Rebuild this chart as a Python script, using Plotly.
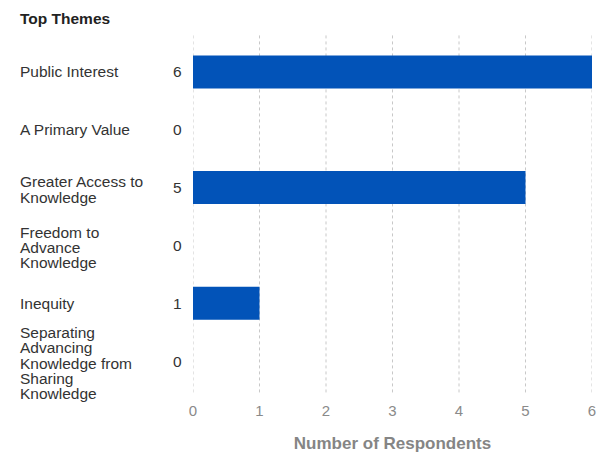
import plotly.graph_objects as go

categories = ["Public Interest", "A Primary Value", "Greater Access to<br>Knowledge",
              "Freedom to<br>Advance<br>Knowledge", "Inequity",
              "Separating<br>Advancing<br>Knowledge from<br>Sharing<br>Knowledge"]
values = [6, 0, 5, 0, 1, 0]
x_ticks = [0, 1, 2, 3, 4, 5, 6]

keys = [str(i) for i in range(len(categories))]

fig = go.Figure()
fig.add_trace(go.Bar(
    x=values, y=keys, orientation="h",
    marker=dict(color="#0253b8", line=dict(width=0)),
    width=0.57, hoverinfo="skip"
))

font = "Liberation Sans, Arial, sans-serif"
FS = 15.5
LH = 15.3
anns = []
for k, c, v in zip(keys, categories, values):
    lines = c.split("<br>")
    n = len(lines)
    for i, ln in enumerate(lines):
        anns.append(dict(x=0, xref="paper", xshift=-175, y=k, yref="y", text=ln,
                         yshift=((n - 1) / 2 - i) * LH - (2 if n > 1 else 0),
                         showarrow=False, xanchor="left", yanchor="middle", align="left",
                         font=dict(family=font, size=FS, color="#333333")))
    anns.append(dict(x=0, xref="paper", xshift=-9, y=k, yref="y", text=str(v),
                     showarrow=False, xanchor="right", yanchor="middle",
                     font=dict(family=font, size=FS, color="#333333")))
anns.append(dict(x=0, xref="paper", xshift=-175, y=1, yref="paper", yshift=24.5,
                 text="<b>Top Themes</b>", showarrow=False, xanchor="left", yanchor="middle",
                 font=dict(family=font, size=FS, color="#222222")))

shapes = []
for t in x_ticks:
    shapes.append(dict(type="line", x0=t, x1=t, xref="x", y0=-0.007, y1=1.027, yref="paper",
                       line=dict(color="#c8c8c8", width=1, dash="3px,3px"), layer="below"))

fig.update_layout(
    width=598, height=454,
    margin=dict(l=193, r=6, t=42.5, b=63.5, autoexpand=False),
    plot_bgcolor="white", paper_bgcolor="white",
    showlegend=False,
    annotations=anns, shapes=shapes,
    xaxis=dict(range=[0, 6], tickvals=x_ticks, showgrid=False, zeroline=False,
               showline=False, ticks="", ticklabelstandoff=10, automargin=False,
               tickfont=dict(family=font, size=15, color="#8a8a8a"),
               title=dict(text="<b>Number of Respondents</b>", standoff=19,
                          font=dict(family=font, size=17, color="#858585"))),
    yaxis=dict(categoryorder="array", categoryarray=keys,
               range=[len(keys) - 0.5, -0.5],
               showticklabels=False, showgrid=False, zeroline=False, showline=False,
               automargin=False),
)

fig.write_html("out.html", config={"displayModeBar": False},
               post_script="document.body.style.margin='0px';")
